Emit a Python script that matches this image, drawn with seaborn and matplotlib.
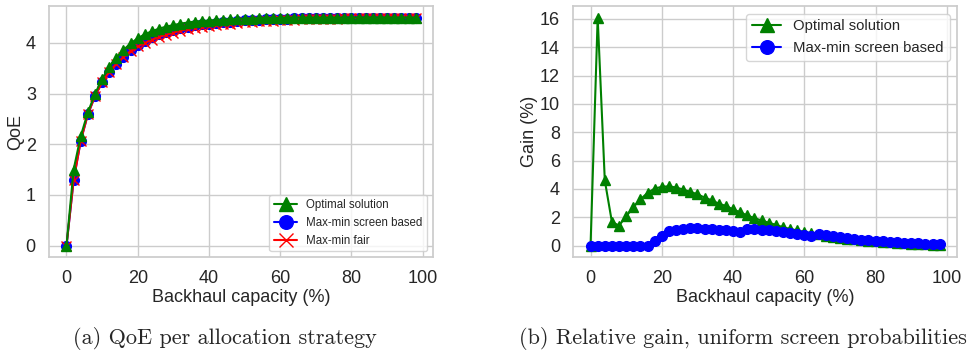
import numpy as np
import matplotlib
matplotlib.use('Agg')
import matplotlib.pyplot as plt
import seaborn as sns

# backhaul capacity (%)
capacity = list(range(0, 100, 2))

# (a) QoE per allocation strategy
qoe_optimal = [0, 1.50, 2.16, 2.63, 2.99, 3.29, 3.52, 3.71, 3.86, 3.99,
               4.09, 4.17, 4.23, 4.28, 4.32, 4.35, 4.38, 4.40, 4.42, 4.43,
               4.44, 4.45, 4.46, 4.47, 4.47, 4.48, 4.48, 4.49, 4.49, 4.49,
               4.49, 4.50, 4.50, 4.50, 4.50, 4.50, 4.50, 4.50, 4.50, 4.50,
               4.50, 4.50, 4.50, 4.50, 4.50, 4.50, 4.50, 4.50, 4.50, 4.50]
qoe_screen = [0, 1.29, 2.07, 2.59, 2.95, 3.22, 3.43, 3.59, 3.72, 3.85,
              3.96, 4.04, 4.11, 4.17, 4.21, 4.25, 4.29, 4.32, 4.35, 4.37,
              4.38, 4.39, 4.41, 4.42, 4.44, 4.45, 4.46, 4.46, 4.47, 4.47,
              4.48, 4.48, 4.49, 4.49, 4.49, 4.49, 4.50, 4.50, 4.50, 4.50,
              4.50, 4.50, 4.50, 4.50, 4.50, 4.50, 4.50, 4.50, 4.50, 4.50]
qoe_fair = [0, 1.29, 2.07, 2.59, 2.95, 3.22, 3.43, 3.59, 3.72, 3.84,
            3.93, 4.00, 4.06, 4.12, 4.16, 4.20, 4.24, 4.27, 4.30, 4.32,
            4.33, 4.35, 4.37, 4.38, 4.40, 4.41, 4.42, 4.43, 4.44, 4.44,
            4.45, 4.46, 4.46, 4.47, 4.47, 4.47, 4.48, 4.48, 4.48, 4.49,
            4.49, 4.49, 4.49, 4.49, 4.49, 4.50, 4.50, 4.50, 4.50, 4.50]

# (b) relative gain (%), uniform screen probabilities
gain_optimal = [0, 16.1, 4.6, 1.66, 1.42, 2.06, 2.72, 3.27, 3.72, 4.03,
                4.15, 4.19, 4.10, 3.96, 3.79, 3.63, 3.39, 3.20, 2.96, 2.80,
                2.56, 2.35, 2.13, 1.94, 1.78, 1.61, 1.47, 1.30, 1.18, 1.07,
                0.97, 0.88, 0.79, 0.71, 0.63, 0.56, 0.50, 0.44, 0.39, 0.34,
                0.30, 0.26, 0.23, 0.20, 0.17, 0.15, 0.12, 0.10, 0.08, 0.06]
gain_screen = [0, 0, 0, 0, 0, 0, 0, 0, 0, 0.30,
               0.69, 1.00, 1.11, 1.18, 1.23, 1.23, 1.18, 1.16, 1.11, 1.07,
               1.02, 0.97, 1.16, 1.16, 1.11, 1.07, 1.02, 0.97, 0.90, 0.83,
               0.76, 0.70, 0.80, 0.74, 0.67, 0.60, 0.54, 0.48, 0.43, 0.38,
               0.34, 0.30, 0.27, 0.24, 0.21, 0.19, 0.16, 0.14, 0.12, 0.10]

sns.set_theme(style="whitegrid")
plt.rcParams['font.family'] = ['Liberation Sans', 'DejaVu Sans']

fig = plt.figure(figsize=(9.73, 3.59), dpi=100)
ax1 = fig.add_axes([0.0504, 0.284, 0.3947, 0.699])
ax2 = fig.add_axes([0.589, 0.284, 0.3947, 0.699])

# left: QoE
h_screen, = ax1.plot(capacity, qoe_screen, '-o', color='blue', ms=7, lw=1.5, label='Max-min screen based')
h_fair, = ax1.plot(capacity, qoe_fair, '-x', color='red', ms=7, lw=1.5, label='Max-min fair')
h_opt, = ax1.plot(capacity, qoe_optimal, '-^', color='green', ms=7, lw=1.5, label='Optimal solution')
ax1.set_xlabel('Backhaul capacity (%)', fontsize=13, labelpad=1)
ax1.set_ylabel('QoE', fontsize=13, labelpad=1)
ax1.set_xticks([0, 20, 40, 60, 80, 100])
ax1.tick_params(labelsize=13)
ax1.legend(handles=[h_opt, h_screen, h_fair], loc='lower right', fontsize=8.3, markerscale=1.4)

# right: relative gain
ax2.plot(capacity, gain_optimal, '-^', color='green', ms=7, lw=1.5, label='Optimal solution')
ax2.plot(capacity, gain_screen, '-o', color='blue', ms=7, lw=1.5, label='Max-min screen based')
ax2.set_xlabel('Backhaul capacity (%)', fontsize=13, labelpad=1)
ax2.set_ylabel('Gain (%)', fontsize=13, labelpad=1)
ax2.set_xticks([0, 20, 40, 60, 80, 100])
ax2.set_yticks(np.arange(0, 17, 2))
ax2.tick_params(labelsize=13)
ax2.legend(loc='upper right', fontsize=10.7, markerscale=1.4)

# sub-captions
fig.text(73 / 973, 0.058, '(a) QoE per allocation strategy', ha='left', va='center',
         family='cmr10', fontsize=16)
fig.text(519 / 973, 0.058, '(b) Relative gain, uniform screen probabilities', ha='left', va='center',
         family='cmr10', fontsize=16)

fig.savefig('out.png', dpi=100)
